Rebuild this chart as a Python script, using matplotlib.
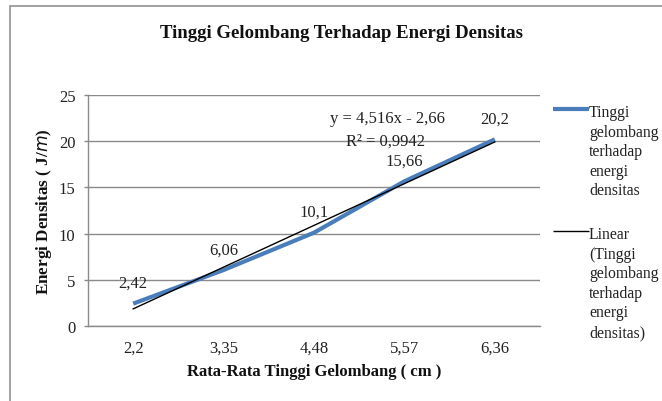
import numpy as np
import matplotlib
matplotlib.use("Agg")
import matplotlib.pyplot as plt
from matplotlib.patches import Rectangle
from matplotlib.lines import Line2D

plt.rcParams['font.family'] = ['Liberation Serif', 'DejaVu Serif']

categories = ["2,2", "3,35", "4,48", "5,57", "6,36"]
values = [2.42, 6.06, 10.1, 15.66, 20.2]
value_labels = ["2,42", "6,06", "10,1", "15,66", "20,2"]
yticks = [0, 5, 10, 15, 20, 25]

W, H = 662, 402
fig = plt.figure(figsize=(W / 100, H / 100), dpi=100)

def px(x0, y0, x1, y1):
    return [x0 / W, 1 - y1 / H, (x1 - x0) / W, (y1 - y0) / H]

ax = fig.add_axes(px(88, 96, 540, 327))

x = np.arange(1, len(categories) + 1)
blue = '#4A7EBB'
ax.plot(x, values, color=blue, lw=3.0, solid_capstyle='butt', zorder=3)

slope, intercept = np.polyfit(x, values, 1)
ax.plot(x, slope * x + intercept, color='black', lw=1.0, zorder=4)

FS = 12
for xi, v, lab in zip(x, values, value_labels):
    ax.annotate(lab, (xi, v), xytext=(0, 15), textcoords='offset points',
                ha='center', va='center', fontsize=FS, color='#222222')

yp = np.array(values)
r2 = 1 - np.sum((yp - (slope * x + intercept)) ** 2) / np.sum((yp - yp.mean()) ** 2)
eq = "y = {}x - {}".format(f"{slope:.3f}".replace('.', ','), f"{-intercept:.2f}".replace('.', ','))
ax.text(3.81, 22.5, eq, ha='center', va='center', fontsize=FS, color='#222222')
ax.text(3.79, 20.1, "R² = " + f"{r2:.4f}".replace('.', ','), ha='center', va='center',
        fontsize=FS, color='#222222')

ax.set_xlim(0.5, len(categories) + 0.5)
ax.set_ylim(0, 25)
ax.set_xticks(x)
ax.set_xticklabels(categories)
ax.set_yticks(yticks)
ax.set_yticklabels([str(t) for t in yticks])
ax.tick_params(axis='x', length=0, pad=10, labelsize=FS, colors='#222222')
ax.tick_params(axis='y', length=3, width=1, pad=6, labelsize=FS, colors='#222222')
ax.tick_params(axis='y', color='#8a8a8a')
ax.grid(axis='y', color='#8a8a8a', lw=1.0)
ax.set_axisbelow(True)
for s in ['top', 'right']:
    ax.spines[s].set_visible(False)
for s in ['left', 'bottom']:
    ax.spines[s].set_color('#8a8a8a')
    ax.spines[s].set_linewidth(1.0)

ax.set_xlabel("Rata-Rata Tinggi Gelombang ( cm )", fontsize=12, fontweight='bold',
              color='#111111')
ax.xaxis.set_label_coords(0.5, (327 - 364) / 231)
ax.set_ylabel("Energi Densitas ( J/$\\it{m}$)", fontsize=12.3, fontweight='bold',
              color='#111111')
ax.yaxis.set_label_coords((54 - 88) / 452, 0.5)

fig.text(342 / W, 1 - 33 / H, "Tinggi Gelombang Terhadap Energi Densitas",
         ha='center', va='center', fontsize=13.5, fontweight='bold', color='#111111')

# legend (outside right)
legend_entries = [
    ("Tinggi\ngelombang\nterhadap\nenergi\ndensitas", blue, 3.0, 110),
    ("Linear\n(Tinggi\ngelombang\nterhadap\nenergi\ndensitas)", 'black', 1.0, 232),
]
for text, col, lw, ypx in legend_entries:
    fig.add_artist(Line2D([553 / W, 589 / W], [1 - ypx / H, 1 - ypx / H], color=col, lw=lw,
                          solid_capstyle='butt'))
    fig.text(589 / W, 1 - (ypx - 5) / H, text, ha='left', va='top', fontsize=11.3,
             linespacing=1.3, color='#222222')

fig.add_artist(Rectangle((10 / W, -0.1), 1.2, 1 - 7 / H + 0.1, transform=fig.transFigure,
                         fill=False, edgecolor='#9a9a9a', lw=1.3))

fig.savefig("out.png", dpi=100)
